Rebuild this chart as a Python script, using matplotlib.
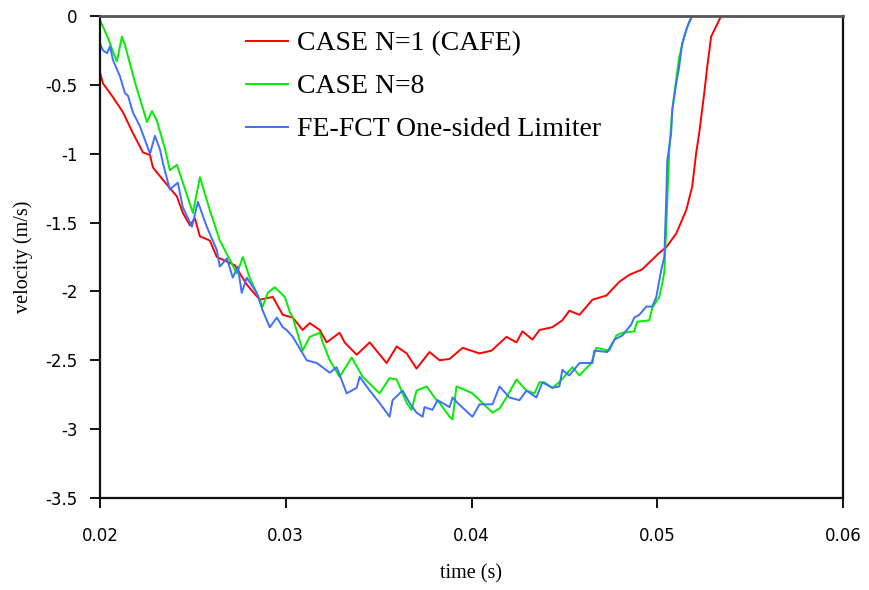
import matplotlib
matplotlib.use("Agg")
import matplotlib.pyplot as plt

# CASE N=1 (CAFE)
t_red = [0.02000, 0.02016, 0.02070, 0.02124, 0.02177, 0.02231, 0.02269, 0.02285,
         0.02339, 0.02414, 0.02446, 0.02484, 0.02511, 0.02538, 0.02591, 0.02629,
         0.02726, 0.02790, 0.02860, 0.02930, 0.02984, 0.03038, 0.03091, 0.03129,
         0.03183, 0.03220, 0.03290, 0.03317, 0.03382, 0.03452, 0.03543, 0.03597,
         0.03651, 0.03704, 0.03774, 0.03828, 0.03882, 0.03952, 0.04043, 0.04108,
         0.04188, 0.04242, 0.04274, 0.04328, 0.04366, 0.04435, 0.04489, 0.04527,
         0.04581, 0.04651, 0.04726, 0.04796, 0.04849, 0.04919, 0.04957, 0.05011,
         0.05048, 0.05102, 0.05156, 0.05188, 0.05210, 0.05226, 0.05237, 0.05253,
         0.05269, 0.05290, 0.05344]
v_red = [-0.41, -0.49, -0.59, -0.70, -0.85, -0.99, -1.01, -1.10,
         -1.19, -1.31, -1.43, -1.52, -1.47, -1.60, -1.63, -1.75,
         -1.81, -1.95, -2.06, -2.04, -2.17, -2.19, -2.28, -2.23,
         -2.28, -2.37, -2.30, -2.37, -2.46, -2.37, -2.52, -2.40,
         -2.45, -2.56, -2.44, -2.50, -2.49, -2.41, -2.45, -2.43,
         -2.33, -2.37, -2.29, -2.35, -2.28, -2.26, -2.21, -2.14,
         -2.17, -2.06, -2.03, -1.93, -1.88, -1.84, -1.79, -1.72,
         -1.68, -1.58, -1.41, -1.24, -0.99, -0.85, -0.73, -0.56,
         -0.37, -0.15, 0.0]

# CASE N=8
t_green = [0.02000, 0.02043, 0.02070, 0.02091, 0.02118, 0.02134, 0.02188, 0.02253,
           0.02280, 0.02306, 0.02349, 0.02376, 0.02414, 0.02441, 0.02500, 0.02538,
           0.02591, 0.02645, 0.02699, 0.02737, 0.02769, 0.02806, 0.02876, 0.02903,
           0.02941, 0.02995, 0.03022, 0.03038, 0.03091, 0.03129, 0.03183, 0.03199,
           0.03237, 0.03290, 0.03355, 0.03414, 0.03505, 0.03559, 0.03597, 0.03651,
           0.03677, 0.03704, 0.03758, 0.03812, 0.03828, 0.03882, 0.03898, 0.03919,
           0.03973, 0.04005, 0.04059, 0.04113, 0.04151, 0.04188, 0.04242, 0.04296,
           0.04339, 0.04366, 0.04392, 0.04435, 0.04473, 0.04543, 0.04581, 0.04645,
           0.04672, 0.04742, 0.04780, 0.04812, 0.04876, 0.04892, 0.04957, 0.04973,
           0.05011, 0.05027, 0.05038, 0.05048, 0.05054, 0.05065, 0.05081, 0.05102,
           0.05118, 0.05145, 0.05172, 0.05188]
v_green = [-0.03, -0.16, -0.26, -0.33, -0.15, -0.21, -0.48, -0.77,
           -0.69, -0.76, -0.96, -1.12, -1.08, -1.19, -1.43, -1.17,
           -1.41, -1.63, -1.77, -1.87, -1.75, -1.90, -2.11, -2.01,
           -1.97, -2.04, -2.15, -2.19, -2.43, -2.33, -2.30, -2.37,
           -2.50, -2.62, -2.48, -2.62, -2.74, -2.63, -2.64, -2.81,
           -2.86, -2.72, -2.69, -2.79, -2.81, -2.91, -2.93, -2.69,
           -2.72, -2.74, -2.81, -2.88, -2.85, -2.77, -2.64, -2.72,
           -2.74, -2.66, -2.66, -2.70, -2.66, -2.55, -2.61, -2.52,
           -2.41, -2.43, -2.32, -2.30, -2.29, -2.22, -2.21, -2.12,
           -2.04, -1.94, -1.86, -1.55, -1.34, -0.97, -0.68, -0.46,
           -0.30, -0.15, -0.04, 0.0]

# FE-FCT One-sided Limiter
t_blue = [0.02000, 0.02016, 0.02038, 0.02054, 0.02070, 0.02108, 0.02134, 0.02151,
          0.02177, 0.02215, 0.02269, 0.02296, 0.02323, 0.02339, 0.02376, 0.02419,
          0.02446, 0.02495, 0.02527, 0.02575, 0.02629, 0.02645, 0.02683, 0.02715,
          0.02742, 0.02763, 0.02790, 0.02844, 0.02876, 0.02914, 0.02952, 0.02984,
          0.03005, 0.03038, 0.03113, 0.03167, 0.03237, 0.03274, 0.03328, 0.03382,
          0.03398, 0.03452, 0.03505, 0.03559, 0.03575, 0.03629, 0.03667, 0.03704,
          0.03737, 0.03747, 0.03790, 0.03817, 0.03844, 0.03882, 0.03898, 0.03925,
          0.04005, 0.04043, 0.04113, 0.04151, 0.04204, 0.04258, 0.04296, 0.04349,
          0.04382, 0.04435, 0.04473, 0.04489, 0.04527, 0.04581, 0.04651, 0.04661,
          0.04731, 0.04769, 0.04812, 0.04860, 0.04876, 0.04903, 0.04941, 0.04973,
          0.04995, 0.05011, 0.05022, 0.05038, 0.05048, 0.05054, 0.05075, 0.05081,
          0.05102, 0.05118, 0.05134, 0.05161, 0.05188]
v_blue = [-0.20, -0.25, -0.27, -0.22, -0.32, -0.44, -0.56, -0.58,
          -0.70, -0.80, -1.00, -0.87, -0.97, -1.07, -1.26, -1.21,
          -1.39, -1.53, -1.35, -1.53, -1.70, -1.82, -1.76, -1.90,
          -1.82, -2.01, -1.90, -2.01, -2.14, -2.26, -2.19, -2.26,
          -2.28, -2.33, -2.50, -2.52, -2.59, -2.55, -2.74, -2.70,
          -2.62, -2.72, -2.81, -2.91, -2.79, -2.72, -2.81, -2.88,
          -2.91, -2.84, -2.86, -2.79, -2.81, -2.84, -2.77, -2.81,
          -2.91, -2.82, -2.82, -2.69, -2.77, -2.79, -2.72, -2.77,
          -2.66, -2.70, -2.69, -2.57, -2.61, -2.52, -2.52, -2.43,
          -2.44, -2.35, -2.32, -2.24, -2.19, -2.17, -2.11, -2.11,
          -2.04, -1.92, -1.84, -1.75, -1.34, -1.05, -0.85, -0.68,
          -0.49, -0.37, -0.20, -0.08, 0.0]

x_ticks = [0.02, 0.03, 0.04, 0.05, 0.06]
x_labels = ["0.02", "0.03", "0.04", "0.05", "0.06"]
y_ticks = [0, -0.5, -1, -1.5, -2, -2.5, -3, -3.5]
y_labels = ["0", "-0.5", "-1", "-1.5", "-2", "-2.5", "-3", "-3.5"]


def main() -> None:
    plt.rcParams["axes.unicode_minus"] = False
    fig = plt.figure(figsize=(8.69, 5.90), dpi=100)
    ax = fig.add_axes([100 / 869, 92 / 590, 743 / 869, 482 / 590])

    ax.plot(t_red, v_red, color="#ff0000", lw=1.4, label="CASE N=1 (CAFE)")
    ax.plot(t_green, v_green, color="#00ee00", lw=1.4, label="CASE N=8")
    ax.plot(t_blue, v_blue, color="#3f6fff", lw=1.4, label="FE-FCT One-sided Limiter")

    ax.set_xlim(0.02, 0.06)
    ax.set_ylim(-3.5, 0)
    ax.set_xticks(x_ticks, x_labels)
    ax.set_yticks(y_ticks, y_labels)
    ax.tick_params(axis="x", direction="out", length=7, width=1.3, pad=14, labelsize=12)
    ax.tick_params(axis="y", direction="out", length=7, width=1.3, pad=9, labelsize=12)

    for side in ["left", "bottom", "right"]:
        ax.spines[side].set_linewidth(1.6)
        ax.spines[side].set_color("#111111")
    ax.spines["top"].set_linewidth(2)
    ax.spines["top"].set_color("#555555")

    ax.set_xlabel("time (s)", family="Liberation Serif", fontsize=14.5, labelpad=14)
    ax.set_ylabel("velocity (m/s)", family="Liberation Serif", fontsize=14.5, labelpad=9)

    ax.legend(loc="upper left", bbox_to_anchor=(246 / 869, 1 - 31 / 590),
              bbox_transform=fig.transFigure, frameon=False,
              prop={"family": "Liberation Serif", "size": 20},
              handlelength=1.5, handletextpad=0.35, labelspacing=0.63,
              borderpad=0, borderaxespad=0)

    fig.savefig("out.png", dpi=100)


if __name__ == "__main__":
    main()
